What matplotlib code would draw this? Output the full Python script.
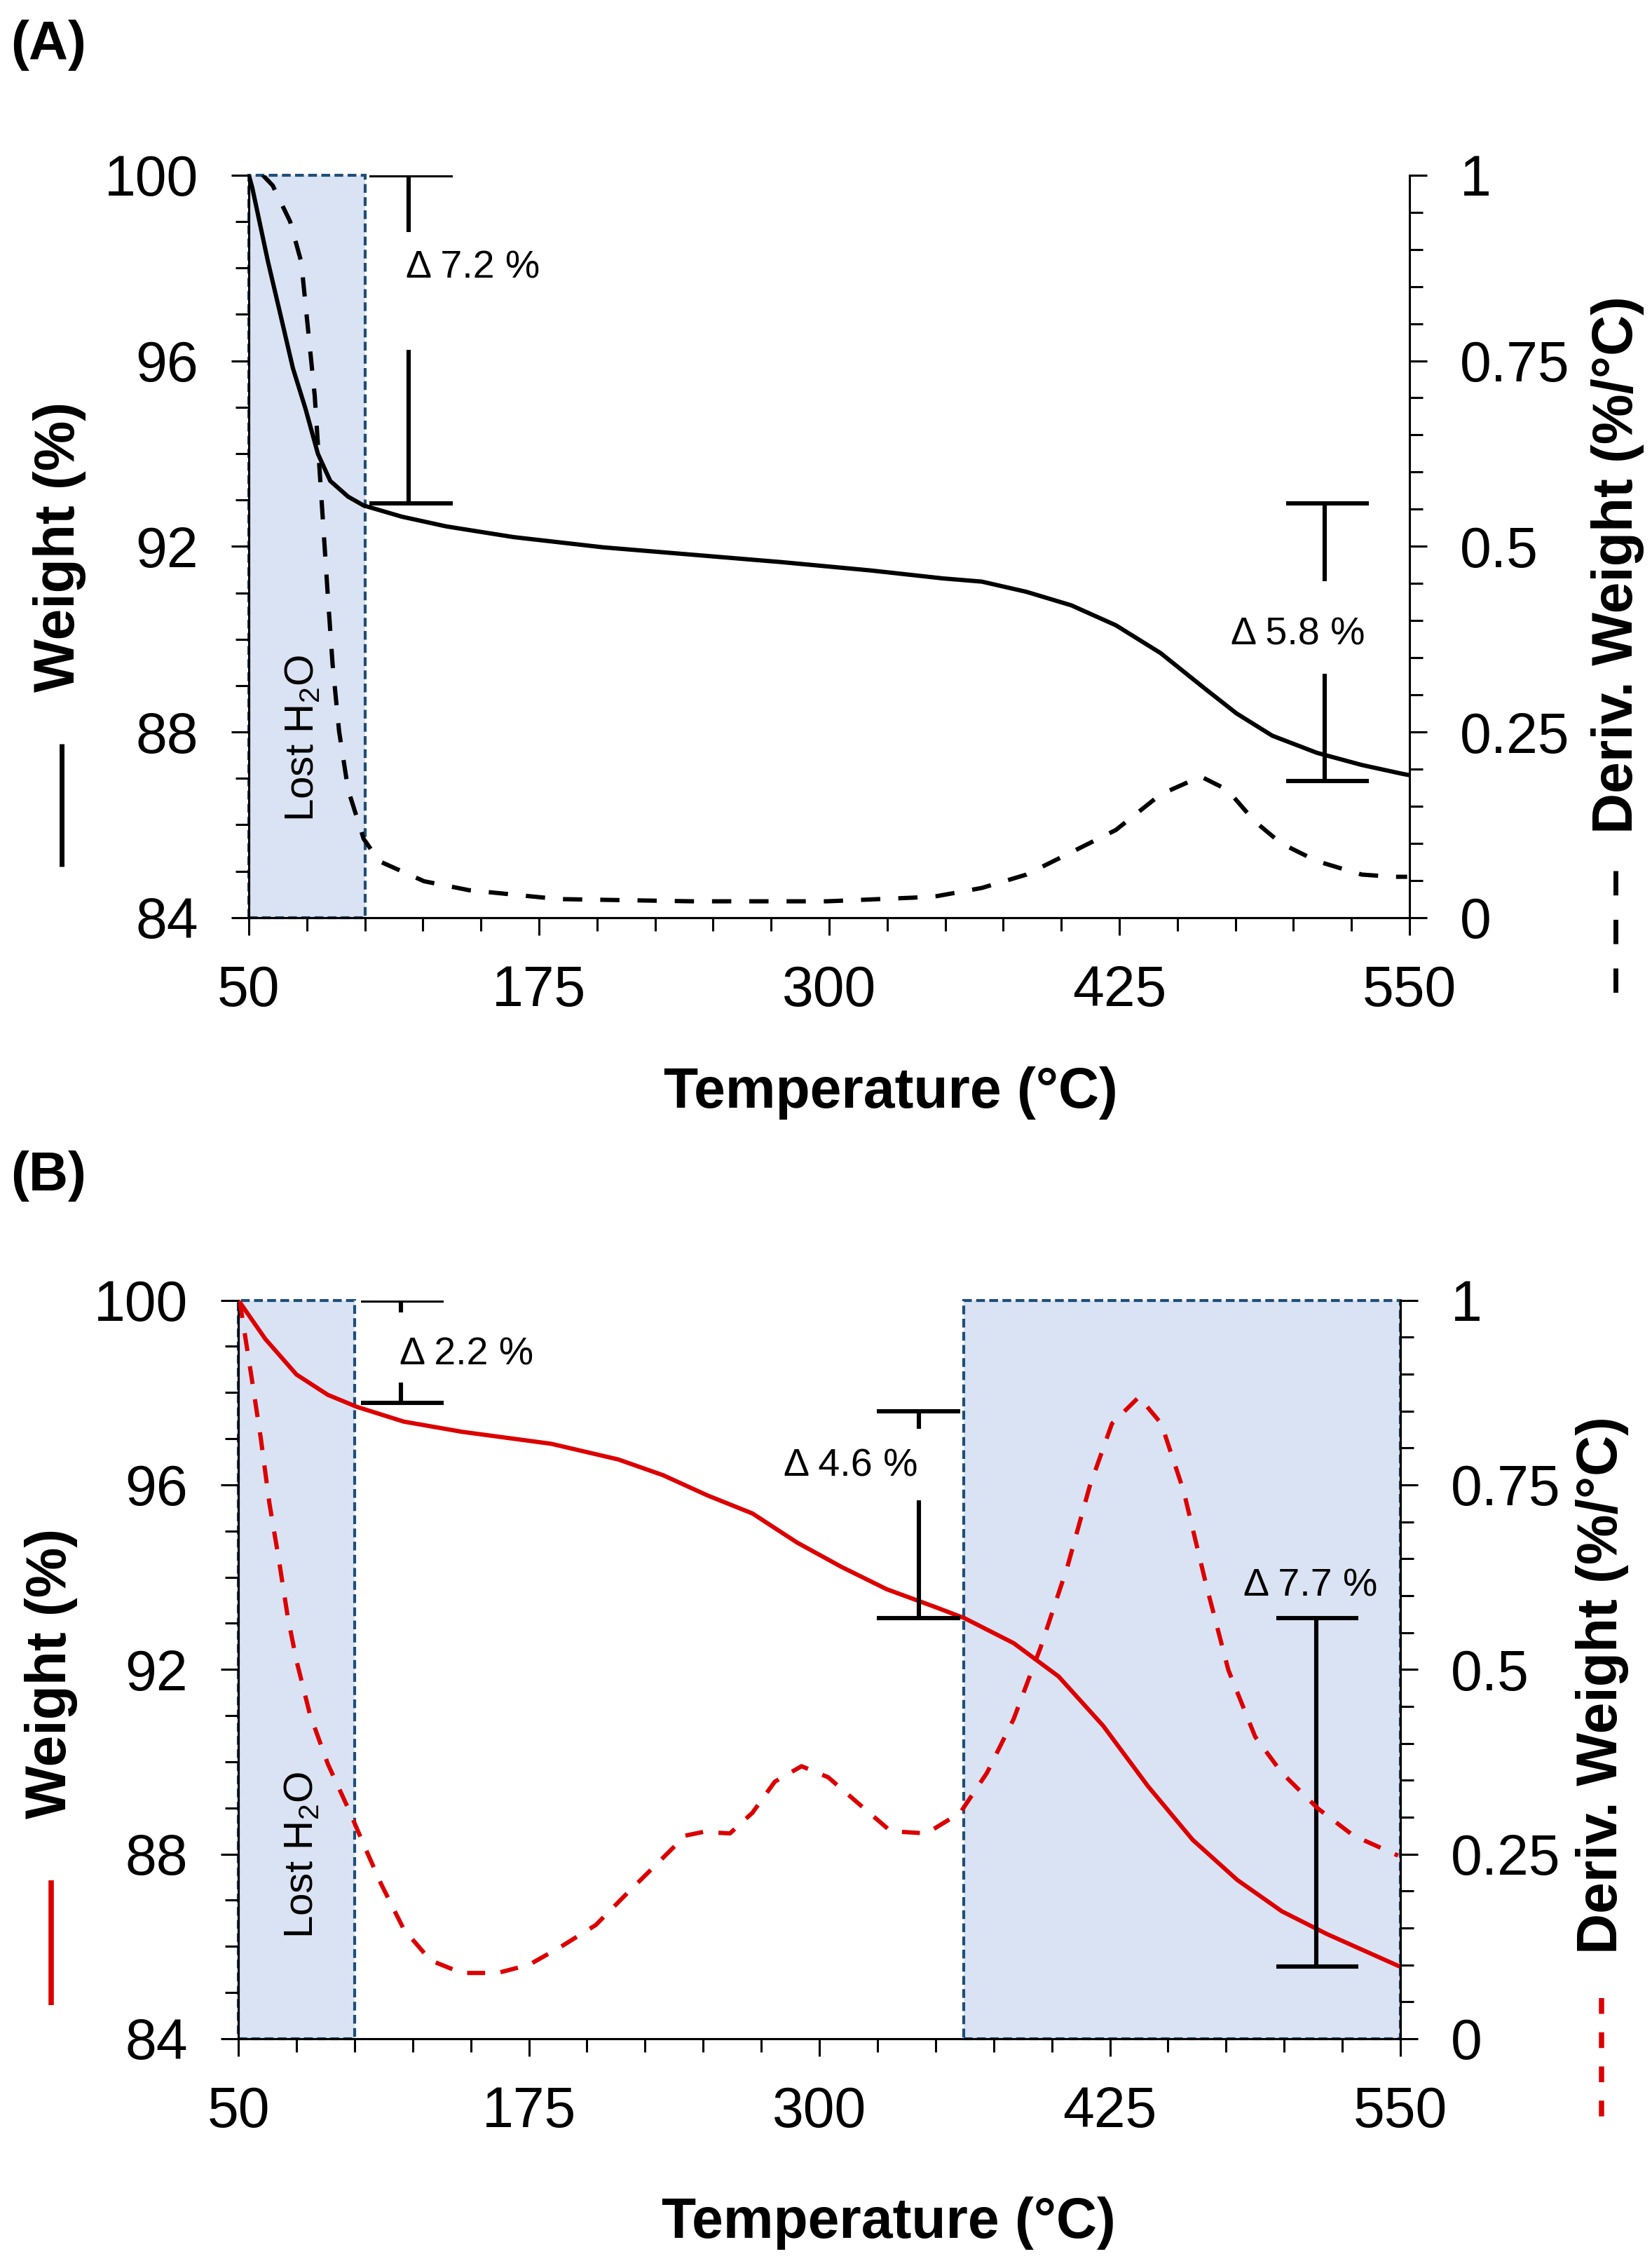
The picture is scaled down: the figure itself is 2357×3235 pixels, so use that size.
import matplotlib
matplotlib.use("Agg")
import matplotlib.pyplot as plt
from matplotlib.lines import Line2D
from matplotlib.patches import Rectangle
from matplotlib.ticker import MultipleLocator

plt.rcParams["font.family"] = ["Liberation Sans", "DejaVu Sans"]
plt.rcParams["mathtext.fontset"] = "custom"
plt.rcParams["mathtext.rm"] = "Liberation Sans"

# ---- data ----
TEMP_TICKS = [50, 175, 300, 425, 550]
WEIGHT_TICKS = [84, 88, 92, 96, 100]
DERIV_TICKS = [0, 0.25, 0.5, 0.75, 1]
DERIV_TICK_LABELS = ["0", "0.25", "0.5", "0.75", "1"]

# panel A (black)
A_WEIGHT_T = [50, 51.45, 58.2, 63.6, 69.0, 74.4, 79.8, 85.1, 92.8, 99.5, 115.9, 135.1, 164,
              202.5, 241.1, 279.6, 318.1, 348.9, 365.8, 385, 404.3, 423.5, 442.8, 462, 475.5,
              490.9, 510.2, 529.4, 546.8, 550]
A_WEIGHT = [100, 99.74, 98.15, 97.0, 95.84, 94.97, 93.99, 93.41, 93.07, 92.88, 92.64, 92.43,
            92.2, 91.98, 91.82, 91.66, 91.48, 91.31, 91.24, 91.02, 90.73, 90.3, 89.7, 88.93,
            88.4, 87.92, 87.55, 87.29, 87.1, 87.07]
A_DERIV_T = [56, 60.3, 67.8, 72.6, 75.5, 78.4, 80.3, 82.2, 84.1, 86.1, 88.9, 92.8, 99.5, 106.2,
             125.5, 144.8, 183.3, 241, 299, 337, 346.5, 365.8, 385, 404.3, 423.5, 442.8, 460.1,
             471.6, 483.2, 494.7, 510.2, 529.4, 542.9, 549]
A_DERIV = [1.0, 0.986, 0.9375, 0.883, 0.793, 0.703, 0.612, 0.522, 0.431, 0.341, 0.251, 0.172,
           0.106, 0.076, 0.049, 0.037, 0.025, 0.022, 0.022, 0.027, 0.029, 0.040, 0.058, 0.088,
           0.118, 0.166, 0.190, 0.172, 0.130, 0.100, 0.076, 0.058, 0.055, 0.055]

# panel B (red)
B_WEIGHT_T = [50, 61.6, 75, 88.5, 101, 121.2, 146.2, 184.6, 213.5, 232.7, 251.9, 271.2, 290.4,
              309.6, 328.9, 350, 362.5, 383.6, 402.9, 422.1, 441.4, 460.6, 479.8, 499, 518.3,
              549, 550]
B_WEIGHT = [100, 99.16, 98.39, 97.95, 97.69, 97.37, 97.15, 96.89, 96.55, 96.21, 95.77, 95.38,
            94.75, 94.22, 93.74, 93.35, 93.11, 92.57, 91.85, 90.78, 89.47, 88.31, 87.44, 86.76,
            86.27, 85.58, 85.56]
B_DERIV_T = [50.3, 51, 55.8, 59.6, 63.4, 67.3, 71.2, 75, 80.8, 88.5, 98.1, 103.9, 111.5, 121.2,
             132.7, 146.2, 161.5, 175, 188.5, 203.8, 217.3, 230.8, 242.3, 250, 261.5, 271.2,
             280.8, 292.3, 303.8, 319.2, 330.7, 346.1, 360.6, 372.1, 383.6, 395.2, 406.7,
             416.3, 425.9, 437.5, 447.1, 456.7, 466.4, 476, 487.5, 499, 514.4, 529.8, 549]
B_DERIV = [1.0, 0.990, 0.893, 0.814, 0.724, 0.651, 0.572, 0.512, 0.439, 0.372, 0.306, 0.263,
           0.209, 0.148, 0.106, 0.089, 0.089, 0.100, 0.124, 0.154, 0.197, 0.239, 0.275, 0.280,
           0.278, 0.306, 0.348, 0.369, 0.354, 0.312, 0.281, 0.278, 0.306, 0.360, 0.433, 0.530,
           0.639, 0.748, 0.833, 0.869, 0.833, 0.742, 0.615, 0.499, 0.409, 0.360, 0.312, 0.275,
           0.248]

# shaded temperature ranges
A_SHADE = [(50, 100)]
B_SHADE = [(50, 100), (362, 550)]

# weight-loss steps: label, temperature of bar, top weight, bottom weight
A_STEP_LABELS = ["\u0394 7.2 %", "\u0394 5.8 %"]
A_STEP_T = [119, 513.4]
A_STEP_TOP = [100, 92.92]
A_STEP_BOTTOM = [92.92, 86.94]
B_STEP_LABELS = ["\u0394 2.2 %", "\u0394 4.6 %", "\u0394 7.7 %"]
B_STEP_T = [119.8, 342.8, 513.7]
B_STEP_TOP = [100, 97.6, 93.12]
B_STEP_BOTTOM = [97.77, 93.12, 85.56]

# ---- layout / style ----
BLACK = "black"
RED = "#DC0000"
FILL = "#DAE3F3"
EDGE = "#1F4E79"
TICK_FS = 58
LABEL_FS = 58
NOTE_FS = 40
LW = 4.4

# cap extents, line gaps (around text) and text positions for the steps
A_STEP_CAP = [(102, 138), (496.8, 532.5)]
A_STEP_GAP = [(98.77, 96.24), (91.25, 89.25)]
A_STEP_TEXT = [(146.6, 97.99), (502, 90.09)]
B_STEP_CAP = [(102.6, 138.4), (324.7, 360.5), (496.5, 531.9)]
B_STEP_GAP = [(99.73, 98.22), (97.22, 95.67), None]
B_STEP_TEXT = [(148, 98.82), (313.6, 96.4), (511.4, 93.81)]


def draw_steps(ax, labels, temps, tops, bottoms, caps, gaps, texts):
    for lab, t, top, bot, cap, gap, txt in zip(labels, temps, tops, bottoms, caps, gaps, texts):
        kw = dict(color=BLACK, lw=LW, solid_capstyle="butt", zorder=4)
        ax.plot(cap, [top, top], **kw)
        ax.plot(cap, [bot, bot], **kw)
        if gap is None:
            ax.plot([t, t], [top, bot], **kw)
        else:
            ax.plot([t, t], [top, gap[0]], **kw)
            ax.plot([t, t], [gap[1], bot], **kw)
        ax.text(txt[0], txt[1], lab, ha="center", va="center", fontsize=NOTE_FS, zorder=5)


def draw_panel(ax, weight_t, weight, deriv_t, deriv, color, shades, deriv_dash, lost_xy):
    ax2 = ax.twinx()
    for x0, x1 in shades:
        ax.add_patch(Rectangle((x0, 84), x1 - x0, 16, facecolor=FILL, edgecolor=EDGE,
                               lw=3.0, linestyle=(0, (3.0, 1.5)), zorder=0.5, clip_on=False))
    ax.plot(weight_t, weight, color=color, lw=LW, zorder=3)
    ax2.plot(deriv_t, deriv, color=color, lw=LW, dashes=deriv_dash, zorder=3)
    ax.text(lost_xy[0], lost_xy[1], "Lost H$_\\mathregular{2}$O", rotation=90,
            ha="center", va="center", fontsize=42, zorder=5)

    ax.set_xlim(50, 550)
    ax.set_ylim(84, 100)
    ax2.set_ylim(0, 1)
    ax.set_xticks(TEMP_TICKS)
    ax.set_yticks(WEIGHT_TICKS)
    ax.xaxis.set_minor_locator(MultipleLocator(25))
    ax.yaxis.set_minor_locator(MultipleLocator(1))
    ax2.set_yticks(DERIV_TICKS)
    ax2.set_yticklabels(DERIV_TICK_LABELS)
    ax2.yaxis.set_minor_locator(MultipleLocator(0.05))

    for a in (ax, ax2):
        a.spines["top"].set_visible(False)
        for s in a.spines.values():
            s.set_linewidth(2.2)
    ax.spines["right"].set_visible(False)
    ax.tick_params(axis="x", which="major", direction="out", length=18, width=2.2,
                   labelsize=TICK_FS, pad=30)
    ax.tick_params(axis="y", which="major", direction="out", length=18, width=2.2,
                   labelsize=TICK_FS, pad=34)
    ax.tick_params(which="minor", direction="out", length=13.5, width=2.2)
    ax2.tick_params(axis="y", which="major", direction="out", length=18, width=2.2,
                    labelsize=TICK_FS, pad=34)
    ax2.tick_params(axis="y", which="minor", direction="out", length=13.5, width=2.2)
    return ax2


fig = plt.figure(figsize=(23.57, 32.35), dpi=100)
ax_a = fig.add_axes([0.1506, 0.5954, 0.7026, 0.3274])
ax_b = fig.add_axes([0.1443, 0.1011, 0.7034, 0.3256])

draw_panel(ax_a, A_WEIGHT_T, A_WEIGHT, A_DERIV_T, A_DERIV, BLACK, A_SHADE, (4.5, 4.2), (73.2, 87.87))
draw_steps(ax_a, A_STEP_LABELS, A_STEP_T, A_STEP_TOP, A_STEP_BOTTOM, A_STEP_CAP, A_STEP_GAP, A_STEP_TEXT)

draw_panel(ax_b, B_WEIGHT_T, B_WEIGHT, B_DERIV_T, B_DERIV, RED, B_SHADE, (4.2, 3.6), (77.4, 87.98))
draw_steps(ax_b, B_STEP_LABELS, B_STEP_T, B_STEP_TOP, B_STEP_BOTTOM, B_STEP_CAP, B_STEP_GAP, B_STEP_TEXT)

# panel letters
fig.text(0.0064, 0.980, "(A)", ha="left", va="center", fontsize=56, fontweight="bold")
fig.text(0.0064, 0.4813, "(B)", ha="left", va="center", fontsize=56, fontweight="bold")

# axis titles with line samples
for xc, yc in [(0.539, 0.518), (0.538, 0.0198)]:
    fig.text(xc, yc, "Temperature (\u00b0C)", ha="center", va="center",
             fontsize=LABEL_FS, fontweight="bold")

fig.text(0.036, 0.759, "Weight (%)", rotation=90, ha="center", va="center",
         fontsize=LABEL_FS, fontweight="bold")
fig.text(0.979, 0.751, "Deriv. Weight (%/\u00b0C)", rotation=90, ha="center", va="center",
         fontsize=LABEL_FS, fontweight="bold")
fig.text(0.031, 0.262, "Weight (%)", rotation=90, ha="center", va="center",
         fontsize=LABEL_FS, fontweight="bold")
fig.text(0.970, 0.257, "Deriv. Weight (%/\u00b0C)", rotation=90, ha="center", va="center",
         fontsize=LABEL_FS, fontweight="bold")

fig.add_artist(Line2D([0.0373, 0.0373], [0.672, 0.618], color=BLACK, lw=5,
                      solid_capstyle="butt", transform=fig.transFigure))
fig.add_artist(Line2D([0.978, 0.978], [0.616, 0.562], color=BLACK, lw=5,
                      dashes=(5, 5), transform=fig.transFigure))
fig.add_artist(Line2D([0.031, 0.031], [0.171, 0.116], color=RED, lw=5.5,
                      solid_capstyle="butt", transform=fig.transFigure))
fig.add_artist(Line2D([0.9695, 0.9695], [0.119, 0.064], color=RED, lw=5.4,
                      dashes=(3, 3.5), transform=fig.transFigure))

fig.savefig("out.png", dpi=100)
